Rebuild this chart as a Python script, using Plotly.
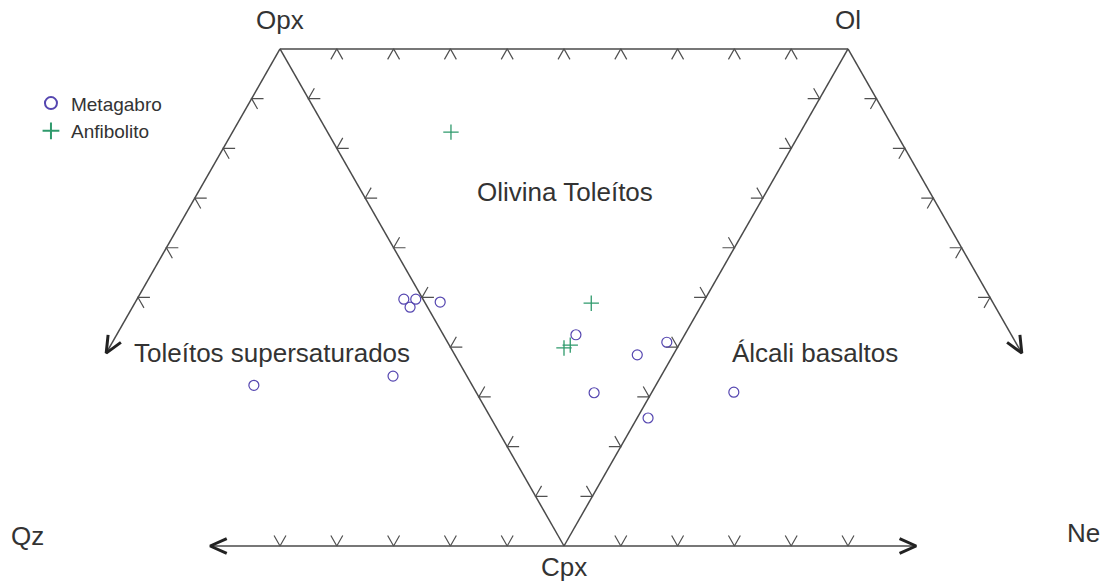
import math
import plotly.graph_objects as go

# ---------------- data ----------------
# diagram frame (projection units, triangle side = 10)
corner_names = ["Opx", "Ol", "Cpx"]
corner_x = [0.0, 10.0, 5.0]
corner_y = [8.66, 8.66, 0.0]

# outer join lines: length (units) of the arms leaving the triangle
arm_left_len = 6.12   # Opx -> towards Qz side
arm_right_len = 6.12  # Ol  -> towards Ne side
base_left_len = 6.23  # Cpx -> Qz
base_right_len = 6.2  # Cpx -> Ne

end_names = ["Qz", "Ne"]
field_names = ["Olivina Toleítos", "Toleítos supersaturados", "Álcali basaltos"]

# samples (projected coordinates)
metagabro_x = [2.18, 2.39, 2.29, 2.82, 1.99, -0.46, 5.21, 6.29, 6.81, 5.53, 6.48, 7.99]
metagabro_y = [4.30, 4.30, 4.16, 4.25, 2.96, 2.80, 3.68, 3.33, 3.55, 2.67, 2.23, 2.68]
anfibolito_x = [3.01, 5.48, 5.00, 5.11]
anfibolito_y = [7.21, 4.23, 3.45, 3.50]

# ---------------- geometry helpers ----------------
LINE_COL = "#4a4a4a"
TEXT_COL = "#333333"
FONT = "Liberation Sans, Arial, sans-serif"

OPX = (corner_x[0], corner_y[0])
OL = (corner_x[1], corner_y[1])
CPX = (corner_x[2], corner_y[2])


def unit(a, b):
    dx, dy = b[0] - a[0], b[1] - a[1]
    L = math.hypot(dx, dy)
    return dx / L, dy / L


def along(p, d, s):
    return (p[0] + d[0] * s, p[1] + d[1] * s)


d_left = (-0.5, -math.sqrt(3) / 2)
d_right = (0.5, -math.sqrt(3) / 2)
QZ_TIP = along(CPX, (-1, 0), base_left_len)
NE_TIP = along(CPX, (1, 0), base_right_len)
LA_TIP = along(OPX, d_left, arm_left_len)
RA_TIP = along(OL, d_right, arm_right_len)

# (start, end, number of ticks, side of the chevrons: +1 left normal, -1 right normal)
segments = [
    (OPX, OL, 9, -1),
    (OPX, CPX, 9, +1),
    (OL, CPX, 9, -1),
    (OPX, LA_TIP, 5, +1),
    (OL, RA_TIP, 5, -1),
    (CPX, QZ_TIP, 5, -1),
    (CPX, NE_TIP, 5, +1),
]

line_x, line_y = [], []
tick_x, tick_y = [], []
TICK_LEN = 0.21
HALF = math.radians(30)
for a, b, nt, side in segments:
    line_x += [a[0], b[0], None]
    line_y += [a[1], b[1], None]
    t = unit(a, b)
    n = (-t[1] * side, t[0] * side)
    for k in range(1, nt + 1):
        p = along(a, t, k)
        arms = []
        for sgn in (-1, 1):
            vx = n[0] * math.cos(HALF) + sgn * t[0] * math.sin(HALF)
            vy = n[1] * math.cos(HALF) + sgn * t[1] * math.sin(HALF)
            arms.append((p[0] + vx * TICK_LEN, p[1] + vy * TICK_LEN))
        tick_x += [arms[0][0], p[0], arms[1][0], None]
        tick_y += [arms[0][1], p[1], arms[1][1], None]

# arrow heads at the four open ends
head_x, head_y = [], []
HEAD_LEN = 0.32
HH = math.radians(24)
for a, tip in [(OPX, LA_TIP), (OL, RA_TIP), (CPX, QZ_TIP), (CPX, NE_TIP)]:
    t = unit(a, tip)
    back = (-t[0], -t[1])
    pts = []
    for sgn in (-1, 1):
        c, s = math.cos(sgn * HH), math.sin(sgn * HH)
        vx = back[0] * c - back[1] * s
        vy = back[0] * s + back[1] * c
        pts.append((tip[0] + vx * HEAD_LEN, tip[1] + vy * HEAD_LEN))
    head_x += [pts[0][0], tip[0], pts[1][0], None]
    head_y += [pts[0][1], tip[1], pts[1][1], None]

fig = go.Figure()
fig.add_trace(go.Scatter(x=line_x, y=line_y, mode="lines",
                         line=dict(color=LINE_COL, width=1.5),
                         hoverinfo="skip", showlegend=False))
fig.add_trace(go.Scatter(x=tick_x, y=tick_y, mode="lines",
                         line=dict(color="#505050", width=1.2),
                         hoverinfo="skip", showlegend=False))
fig.add_trace(go.Scatter(x=head_x, y=head_y, mode="lines",
                         line=dict(color="#222222", width=3),
                         hoverinfo="skip", showlegend=False))

fig.add_trace(go.Scatter(x=metagabro_x, y=metagabro_y, mode="markers", name="Metagabro",
                         marker=dict(symbol="circle-open", size=10,
                                     color="#5546b0", line=dict(width=1.2))))
fig.add_trace(go.Scatter(x=anfibolito_x, y=anfibolito_y, mode="markers", name="Anfibolito",
                         marker=dict(symbol="cross-thin-open", size=11,
                                     color="#2f9a6c", line=dict(width=1.3))))

# labels
annos = []
label_font = dict(family=FONT, size=26, color=TEXT_COL)
annos.append(dict(x=OPX[0], y=OPX[1], text=corner_names[0], yshift=29))
annos.append(dict(x=OL[0], y=OL[1], text=corner_names[1], yshift=29))
annos.append(dict(x=CPX[0], y=CPX[1], text=corner_names[2], yshift=-21))
annos.append(dict(x=-4.45, y=0.17, text=end_names[0]))
annos.append(dict(x=14.15, y=0.23, text=end_names[1]))
annos.append(dict(x=5.02, y=6.17, text=field_names[0]))
annos.append(dict(x=-0.14, y=3.36, text=field_names[1]))
annos.append(dict(x=9.42, y=3.36, text=field_names[2]))
for a in annos:
    a.update(xref="x", yref="y", showarrow=False, font=label_font,
             xanchor="center", yanchor="middle")

W, H = 1106, 581
PXU_X, PXU_Y = 56.8, 57.4
x0 = -280 / PXU_X
y_top = 546 / PXU_Y
fig.update_layout(
    width=W, height=H,
    margin=dict(l=0, r=0, t=0, b=0),
    paper_bgcolor="white", plot_bgcolor="white",
    xaxis=dict(range=[x0, x0 + W / PXU_X], visible=False, fixedrange=True),
    yaxis=dict(range=[y_top - H / PXU_Y, y_top], visible=False, fixedrange=True),
    annotations=annos,
    legend=dict(x=0.028, y=0.855, xanchor="left", yanchor="top",
                font=dict(family=FONT, size=19, color=TEXT_COL),
                bgcolor="rgba(0,0,0,0)", itemsizing="constant", tracegroupgap=0),
    showlegend=True,
)

fig.write_html("out.html",
               config={"displayModeBar": False},
               post_script="document.body.style.margin='0';document.body.style.overflow='hidden';")
